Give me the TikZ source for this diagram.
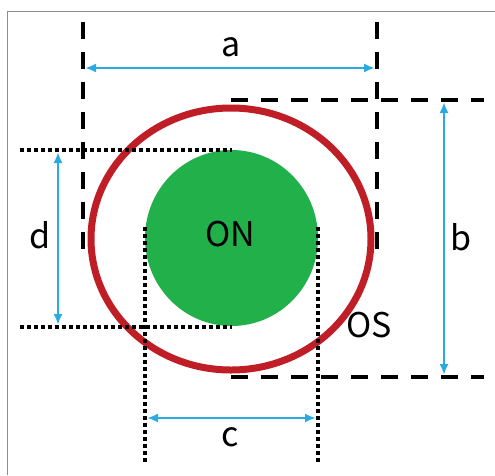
\documentclass[tikz,border=0pt]{standalone}
\usepackage{fontspec}
\newfontfamily\lblfont{Noto Sans CJK SC}
\usetikzlibrary{arrows.meta}
\definecolor{osred}{RGB}{192,30,38}
\definecolor{ongreen}{RGB}{34,176,75}
\definecolor{dimblue}{RGB}{41,171,226}
\definecolor{framegray}{RGB}{140,140,140}
\begin{document}
\begin{tikzpicture}[x=1pt,y=-1pt,
 frameline/.style={draw=framegray, line width=1.5pt},
 dashline/.style={draw=black, line width=4pt, dash pattern=on 17pt off 13pt},
 dotline/.style={draw=black, line width=4pt, dash pattern=on 4pt off 3pt},
 dimline/.style={draw=dimblue, line width=2.4pt, {Latex[length=11pt,width=9pt]}-{Latex[length=11pt,width=9pt]}},
 lbl/.style={font=\lblfont\fontsize{34}{34}\selectfont, inner sep=0pt}]
\useasboundingbox (0,0) rectangle (495,475);
% frame (top and left only visible)
\coordinate (fbl) at (7.5,475);
\coordinate (ftl) at (7.5,11.5);
\coordinate (ftr) at (495,11.5);
\draw[frameline] (fbl) -- (ftl) -- (ftr);
% shapes
\fill[ongreen] (231.5,238) ellipse [x radius=86.5pt, y radius=88pt];
\draw[osred, line width=7pt] (231,239) ellipse [x radius=140pt, y radius=131pt];
% coordinates
\coordinate (av1) at (83,22);  \coordinate (av2) at (83,251);
\coordinate (aw1) at (377,22); \coordinate (aw2) at (377,251);
\coordinate (bt1) at (231,100); \coordinate (bt2) at (484,100);
\coordinate (bb1) at (231,377); \coordinate (bb2) at (484,377);
\coordinate (dt1) at (20,150); \coordinate (dt2) at (232,150);
\coordinate (db1) at (20,327); \coordinate (db2) at (232,327);
\coordinate (cl1) at (145,227); \coordinate (cl2) at (145,464);
\coordinate (cr1) at (318,227); \coordinate (cr2) at (318,464);
% dashed guides
\draw[dashline] (av1) -- (av2);
\draw[dashline] (aw1) -- (aw2);
\draw[dashline] (bt1) -- (bt2);
\draw[dashline] (bb1) -- (bb2);
% dotted guides
\draw[dotline] (dt1) -- (dt2);
\draw[dotline] (db1) -- (db2);
\draw[dotline] (cl1) -- (cl2);
\draw[dotline] (cr1) -- (cr2);
% dimension arrows
\coordinate (aA) at (85,68);  \coordinate (aB) at (375,68);
\coordinate (bA) at (444,102); \coordinate (bB) at (444,375);
\coordinate (dA) at (58,152);  \coordinate (dB) at (58,325);
\coordinate (cA) at (147,418); \coordinate (cB) at (316,418);
\draw[dimline] (aA) -- (aB);
\draw[dimline] (bA) -- (bB);
\draw[dimline] (dA) -- (dB);
\draw[dimline] (cA) -- (cB);
% labels
\node[lbl] (la) at (231,47) {a};
\node[lbl] (lb) at (461,237) {b};
\node[lbl] (ld) at (40,235) {d};
\node[lbl] (lc) at (230,437) {c};
\node[lbl] (lon) at (230,234) {ON};
\node[lbl] (los) at (369,325) {OS};
\end{tikzpicture}
\end{document}
